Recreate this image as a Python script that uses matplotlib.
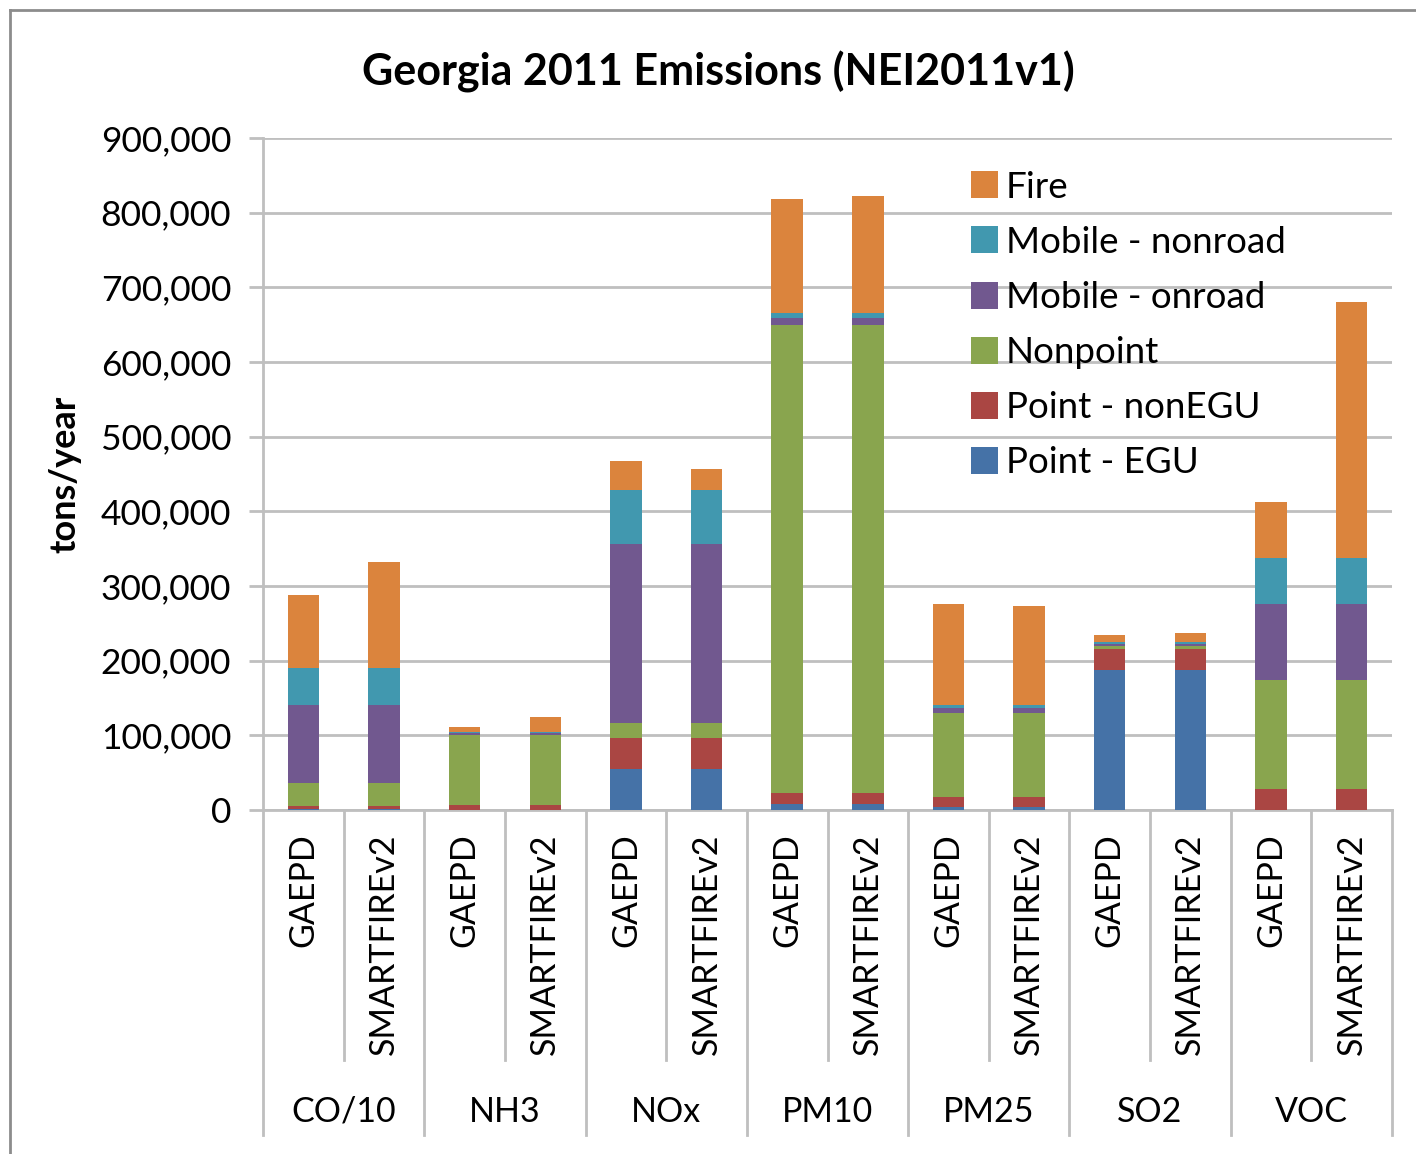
import matplotlib
matplotlib.use("Agg")
import matplotlib.pyplot as plt
from matplotlib.lines import Line2D
import numpy as np

plt.rcParams['font.family'] = ['Lato', 'DejaVu Sans']

pollutants = ["CO/10", "NH3", "NOx", "PM10", "PM25", "SO2", "VOC"]
sources = ["GAEPD", "SMARTFIREv2"]
series_names = ["Point - EGU", "Point - nonEGU", "Nonpoint",
                "Mobile - onroad", "Mobile - nonroad", "Fire"]
colors = ["#4572A7", "#AA4643", "#89A54E", "#71588F", "#4198AF", "#DB843D"]

# values in tons/year, order: CO/10 G, CO/10 S, NH3 G, NH3 S, NOx G, NOx S, PM10 G, PM10 S, PM25 G, PM25 S, SO2 G, SO2 S, VOC G, VOC S
point_egu    = [1000, 1000, 500, 500, 55000, 55000, 7500, 7500, 3600, 3600, 187500, 187500, 500, 500]
point_nonegu = [4000, 4000, 6000, 6000, 42000, 42000, 15500, 15500, 13400, 13400, 27500, 27500, 27000, 27000]
nonpoint     = [31000, 31000, 94000, 94000, 19000, 19000, 627000, 627000, 112500, 112500, 5000, 5000, 146500, 146500]
mobile_onroad = [105000, 105000, 3000, 3000, 240000, 240000, 9000, 9000, 6500, 6500, 2000, 2000, 102000, 102000]
mobile_nonroad = [49000, 49000, 300, 300, 73000, 73000, 6000, 6000, 4600, 4600, 3000, 3000, 61500, 61500]
fire         = [98000, 142500, 7000, 21000, 39000, 28000, 153000, 157000, 135000, 132700, 9000, 11700, 75000, 343000]

series = [point_egu, point_nonegu, nonpoint, mobile_onroad, mobile_nonroad, fire]
yticks = [0, 100000, 200000, 300000, 400000, 500000, 600000, 700000, 800000, 900000]

fig = plt.figure(figsize=(14.16, 11.54), dpi=100)
ax = fig.add_axes([263/1416, 1 - 810/1154, (1392-263)/1416, 672/1154])

n = len(pollutants) * len(sources)
x = np.arange(n) + 0.5
bottom = np.zeros(n)
handles = []
for vals, name, c in zip(series, series_names, colors):
    b = ax.bar(x, vals, width=0.39, bottom=bottom, color=c, label=name, zorder=3)
    bottom += np.array(vals, dtype=float)
    handles.append(b)

ax.set_xlim(0, n)
ax.set_ylim(0, 900000)
ax.set_yticks(yticks)
ax.set_yticklabels([f"{v:,}" for v in yticks], fontsize=25.5)
ax.yaxis.grid(True, color="#BFBFBF", linewidth=2, zorder=0)
ax.set_axisbelow(True)
for s in ["top", "right"]:
    ax.spines[s].set_visible(False)
ax.spines["left"].set_color("#BFBFBF")
ax.spines["left"].set_linewidth(2)
ax.spines["bottom"].set_color("#BFBFBF")
ax.spines["bottom"].set_linewidth(2)
ax.tick_params(axis="y", length=10, color="#BFBFBF", width=2, pad=13)
ax.set_xticks([])

ax.set_ylabel("tons/year", fontsize=26, fontweight="bold", labelpad=14)

# multi-level category axis
trans = ax.get_xaxis_transform()
for i in range(n + 1):
    ybot = -0.484 if i % 2 == 0 else -0.372
    ax.add_line(Line2D([i, i], [0, ybot], transform=trans, color="#BFBFBF",
                       linewidth=2, clip_on=False))
for i in range(n):
    ax.text(x[i], -0.035, sources[i % 2], transform=trans, rotation=90,
            ha="center", va="top", fontsize=24.5)
for g, p in enumerate(pollutants):
    ax.text(2 * g + 1, -0.449, p, transform=trans, ha="center", va="center",
            fontsize=24.5)

leg = ax.legend(handles[::-1], series_names[::-1], loc="upper left",
                bbox_to_anchor=((956-263)/1129, (810-156)/672),
                frameon=False, fontsize=26.5, handlelength=0.75, handleheight=0.75,
                handletextpad=0.2, labelspacing=0.6, borderaxespad=0)

fig.text(718/1416, 1 - 72/1154, "Georgia 2011 Emissions (NEI2011v1)",
         ha="center", va="center", fontsize=31, fontweight="bold")

# figure border
fig.add_artist(Line2D([10/1416, 10/1416], [0, 1 - 10/1154], transform=fig.transFigure,
                      color="#8C8C8C", linewidth=2))
fig.add_artist(Line2D([10/1416, 1], [1 - 10/1154, 1 - 10/1154], transform=fig.transFigure,
                      color="#8C8C8C", linewidth=2))

fig.savefig("out.png", dpi=100, facecolor="white")
